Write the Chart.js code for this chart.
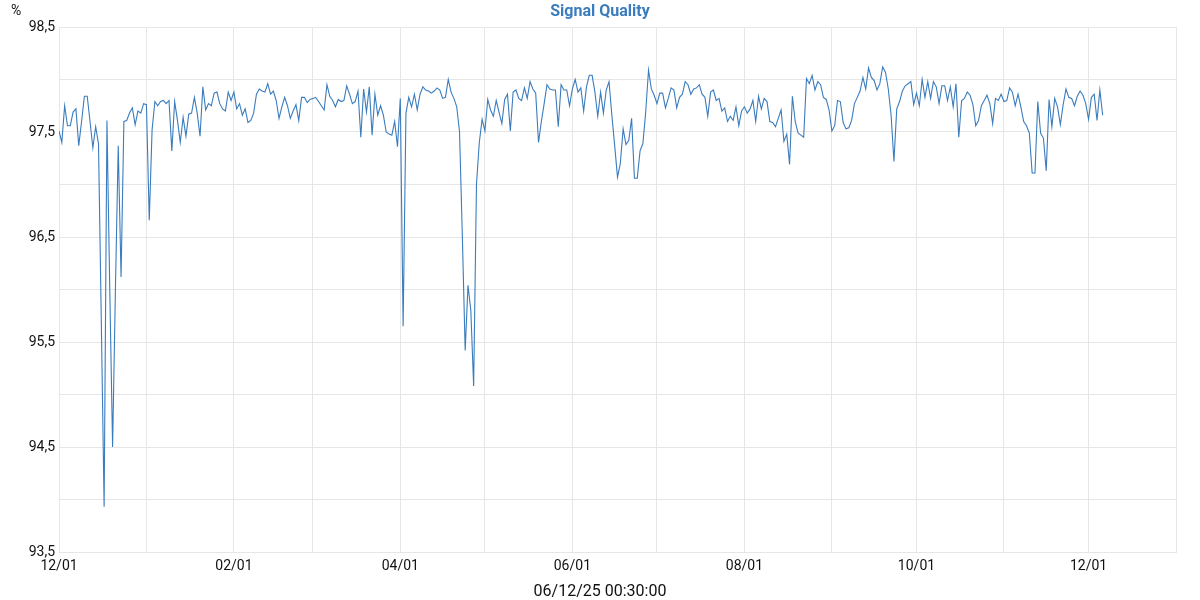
<!DOCTYPE html>
<html>
<head>
<meta charset="utf-8">
<script src="https://cdn.jsdelivr.net/npm/chart.js@4.4.1/dist/chart.umd.min.js"></script>
<style>
  html, body { margin: 0; padding: 0; background: #fff; }
  #wrap { width: 1200px; height: 600px; }
</style>
</head>
<body>
<div id="wrap"><canvas id="chart"></canvas></div>
<script>
// -- DATA
const chartTitle = 'Signal Quality';
const unitLabel = '%';
const xTitle = '06/12/25 00:30:00';
const startDay = [2024, 11, 1];   // 01/12/2024 (UTC, month 0-based)
const endDay   = [2026, 0, 1];    // axis end
const yRange = [93.5, 98.5];

// daily signal quality, one value per day from 01/12/2024
const quality = [
  97.51, 97.40, 97.75, 97.56, 97.56, 97.69, 97.72, 97.37, 97.60, 97.84,
  97.84, 97.60, 97.35, 97.55, 97.39, 95.70, 93.93, 97.61, 96.00, 94.50,
  96.00, 97.37, 96.12, 97.60, 97.61, 97.68, 97.73, 97.57, 97.70, 97.68,
  97.77, 97.76, 96.66, 97.52, 97.79, 97.75, 97.79, 97.80, 97.77, 97.80,
  97.32, 97.79, 97.61, 97.40, 97.64, 97.46, 97.67, 97.68, 97.83, 97.68,
  97.46, 97.93, 97.71, 97.77, 97.75, 97.87, 97.88, 97.77, 97.72, 97.70,
  97.88, 97.80, 97.88, 97.72, 97.77, 97.66, 97.72, 97.59, 97.61, 97.68,
  97.86, 97.91, 97.89, 97.88, 97.96, 97.86, 97.89, 97.80, 97.63, 97.74,
  97.83, 97.75, 97.63, 97.70, 97.76, 97.61, 97.83, 97.83, 97.78, 97.81,
  97.82, 97.83, 97.79, 97.75, 97.71, 97.95, 97.84, 97.80, 97.74, 97.81,
  97.79, 97.80, 97.94, 97.86, 97.77, 97.79, 97.89, 97.45, 97.91, 97.69,
  97.93, 97.47, 97.86, 97.66, 97.75, 97.66, 97.50, 97.48, 97.47, 97.60,
  97.36, 97.82, 95.65, 97.68, 97.83, 97.74, 97.86, 97.71, 97.86, 97.93,
  97.90, 97.89, 97.87, 97.89, 97.92, 97.90, 97.82, 97.83, 98.00, 97.88,
  97.82, 97.74, 97.50, 96.50, 95.42, 96.04, 95.80, 95.08, 97.00, 97.40,
  97.62, 97.51, 97.81, 97.71, 97.65, 97.80, 97.69, 97.58, 97.81, 97.86,
  97.51, 97.88, 97.90, 97.82, 97.80, 97.92, 97.82, 97.98, 97.91, 97.87,
  97.40, 97.60, 97.77, 97.95, 97.91, 97.90, 97.90, 97.55, 97.95, 97.90,
  97.90, 97.75, 97.91, 98.00, 97.88, 97.92, 97.70, 97.93, 98.04, 98.04,
  97.88, 97.65, 97.88, 97.68, 97.90, 97.98, 97.66, 97.37, 97.07, 97.20,
  97.53, 97.38, 97.42, 97.63, 97.06, 97.06, 97.32, 97.39, 97.69, 98.09,
  97.91, 97.85, 97.77, 97.87, 97.87, 97.73, 97.82, 97.92, 97.90, 97.73,
  97.83, 97.86, 97.98, 97.95, 97.86, 97.91, 97.92, 97.95, 97.86, 97.83,
  97.65, 97.88, 97.90, 97.80, 97.82, 97.70, 97.73, 97.60, 97.65, 97.61,
  97.74, 97.56, 97.70, 97.74, 97.68, 97.72, 97.80, 97.60, 97.84, 97.72,
  97.82, 97.79, 97.60, 97.59, 97.55, 97.63, 97.71, 97.41, 97.48, 97.19,
  97.84, 97.60, 97.49, 97.47, 97.45, 98.01, 97.96, 98.04, 97.90, 97.98,
  97.95, 97.83, 97.81, 97.71, 97.51, 97.56, 97.80, 97.79, 97.59, 97.53,
  97.54, 97.61, 97.77, 97.83, 97.89, 98.02, 97.91, 98.11, 98.02, 97.99,
  97.90, 97.96, 98.12, 98.07, 97.91, 97.66, 97.22, 97.72, 97.79, 97.89,
  97.94, 97.96, 97.98, 97.76, 97.87, 97.75, 98.00, 97.83, 97.98, 97.82,
  97.98, 97.93, 97.77, 97.94, 97.94, 97.80, 97.93, 97.74, 97.96, 97.45,
  97.80, 97.82, 97.88, 97.85, 97.76, 97.56, 97.61, 97.75, 97.80, 97.85,
  97.77, 97.58, 97.82, 97.80, 97.86, 97.79, 97.80, 97.92, 97.88, 97.75,
  97.86, 97.74, 97.60, 97.56, 97.49, 97.11, 97.11, 97.79, 97.49, 97.44,
  97.13, 97.81, 97.55, 97.82, 97.74, 97.57, 97.76, 97.91, 97.83, 97.82,
  97.75, 97.84, 97.89, 97.85, 97.77, 97.62, 97.83, 97.86, 97.61, 97.90,
  97.66
];

// -- HELPERS
const DAY_MS = 86400000;
const t0 = Date.UTC(...startDay);
const tEnd = Date.UTC(...endDay);
const pad2 = n => String(n).padStart(2, '0');

function monthTicks() {
  const out = [];
  for (let m = 0; ; m++) {
    const t = Date.UTC(startDay[0], startDay[1] + m, 1);
    if (t > tEnd) break;
    out.push({ value: (t - t0) / DAY_MS });
  }
  return out;
}

function dayLabel(v) {
  const d = new Date(t0 + v * DAY_MS);
  return pad2(d.getUTCMonth() + 1) + '/' + pad2(d.getUTCDate());
}

// -- TEXT OUTSIDE THE PLOT (title, unit, x title)
const gridColor = '#e6e6e6';
const lineColor = '#3a7cbd';

const extraText = {
  id: 'extraText',
  afterDraw(chart) {
    const c = chart.ctx;
    c.save();
    c.textBaseline = 'middle';
    c.textAlign = 'center';
    c.fillStyle = lineColor;
    c.font = 'bold 16px Roboto';
    c.fillText(chartTitle, 600, 12);
    c.fillStyle = '#111';
    c.font = '14px Roboto';
    c.textAlign = 'left';
    c.fillText(unitLabel, 11, 11);
    c.font = '16px Roboto';
    c.textAlign = 'center';
    c.fillText(xTitle, 600, 592);
    c.restore();
  }
};

// -- CHART
new Chart(document.getElementById('chart'), {
  type: 'line',
  data: {
    datasets: [{
      data: quality.map((v, i) => ({ x: i, y: v })),
      borderColor: lineColor,
      borderWidth: 1.1,
      pointRadius: 0,
      tension: 0,
      fill: false
    }]
  },
  options: {
    responsive: true,
    maintainAspectRatio: false,
    animation: false,
    layout: { padding: { left: 0, right: 24, top: 27, bottom: 0 } },
    plugins: {
      legend: { display: false },
      tooltip: { enabled: false },
      title: { display: false }
    },
    scales: {
      x: {
        type: 'linear',
        min: 0,
        max: (tEnd - t0) / DAY_MS,
        afterBuildTicks: scale => { scale.ticks = monthTicks(); },
        afterFit: scale => { scale.height = 48; },
        grid: { color: gridColor, drawTicks: false },
        border: { color: gridColor },
        ticks: {
          autoSkip: false, maxRotation: 0, padding: 6,
          color: '#111', font: { family: 'Roboto', size: 14 },
          callback: (v, i) => (i % 2 === 0 ? dayLabel(v) : '')
        }
      },
      y: {
        min: yRange[0],
        max: yRange[1],
        afterFit: scale => { scale.width = 59; },
        grid: { color: gridColor, drawTicks: false },
        border: { color: gridColor },
        ticks: {
          stepSize: 0.5, padding: 4,
          color: '#111', font: { family: 'Roboto', size: 14 },
          callback: v => (Math.round(v * 2) % 2 === 1 ? v.toFixed(1).replace('.', ',') : '')
        }
      }
    }
  },
  plugins: [extraText]
});
</script>
</body>
</html>
